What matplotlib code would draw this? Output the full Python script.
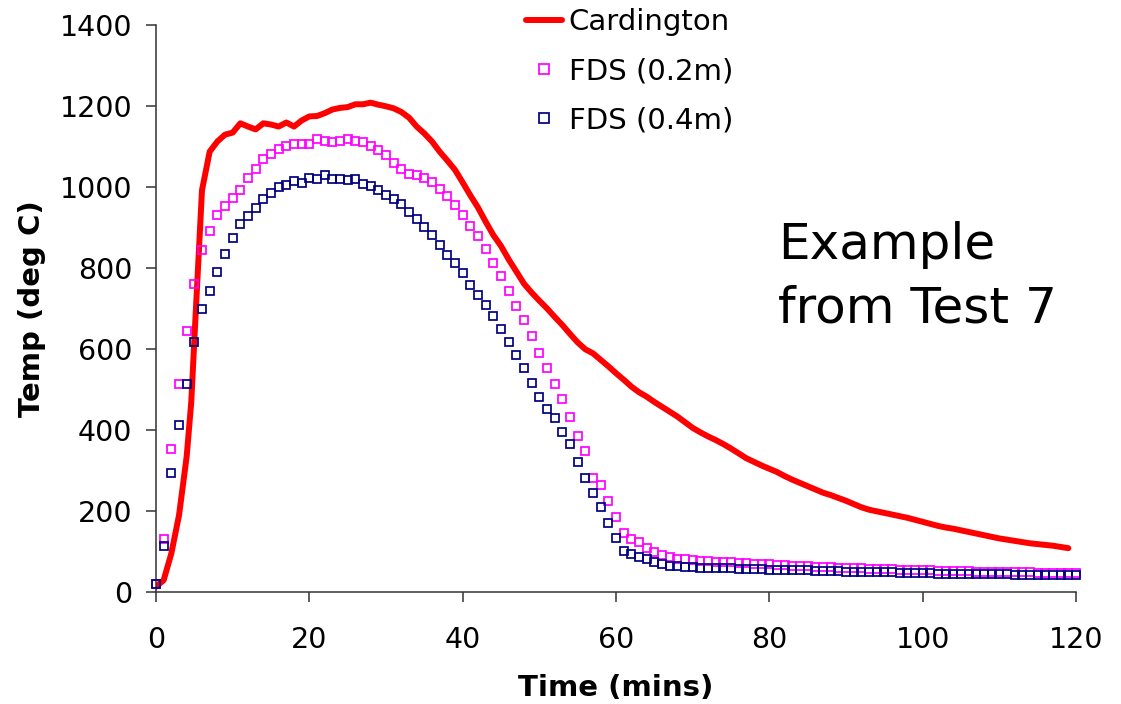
import matplotlib
matplotlib.use("Agg")
import matplotlib.pyplot as plt
import numpy as np

# Cardington measured temperatures
card_time = [0, 1, 2, 3, 4, 4.6, 5.1, 6, 7, 8, 9, 10, 11, 12, 13, 14, 15, 16, 17, 18,
             19, 20, 21, 22, 23, 24, 25, 26, 27, 28, 29, 30, 31, 32, 33, 34, 35, 36,
             37, 38, 39, 40, 41, 42, 43, 44, 45, 46, 47, 48, 49, 50, 51, 52, 53, 54,
             55, 56, 57, 58, 59, 60, 61, 62, 63, 64, 65, 66, 67, 68, 69, 70, 71, 72,
             73, 74, 75, 76, 77, 78, 79, 80, 81, 82, 83, 84, 85, 86, 87, 88, 89, 90,
             91, 92, 93, 94, 95, 96, 97, 98, 99, 100, 101, 102, 103, 104, 105, 106,
             107, 108, 109, 110, 111, 112, 113, 114, 115, 116, 117, 118, 119]
card_temp = [14, 30, 96, 190, 335, 470, 660, 993, 1088, 1113, 1130, 1135, 1158, 1150,
             1143, 1158, 1155, 1150, 1160, 1150, 1165, 1175, 1176, 1183, 1192, 1196,
             1198, 1205, 1205, 1209, 1204, 1200, 1195, 1186, 1172, 1150, 1133, 1113,
             1088, 1066, 1043, 1012, 980, 950, 915, 882, 855, 822, 792, 762, 740, 720,
             701, 680, 660, 638, 617, 600, 590, 574, 558, 541, 525, 508, 494, 483, 470,
             458, 446, 434, 420, 406, 395, 385, 376, 366, 355, 343, 331, 322, 313, 305,
             297, 287, 278, 270, 262, 254, 246, 240, 233, 226, 218, 210, 204, 200, 196,
             192, 188, 184, 179, 174, 169, 164, 160, 157, 153, 149, 145, 141, 137, 133,
             130, 127, 124, 121, 119, 117, 115, 112, 109]

# FDS predictions, one value per minute 0..120
fds_time = list(range(0, 121))
fds_02 = [20, 132, 355, 514, 645, 762, 844, 891, 931, 954, 974, 993, 1022, 1046, 1071,
          1081, 1094, 1102, 1108, 1108, 1108, 1119, 1114, 1112, 1114, 1119, 1114, 1112,
          1102, 1091, 1079, 1061, 1046, 1034, 1030, 1022, 1012, 997, 978, 956, 932, 904,
          879, 847, 812, 781, 744, 707, 672, 633, 592, 555, 514, 478, 434, 387, 348, 283,
          264, 225, 186, 146, 131, 123, 110, 100, 91, 86, 83, 81, 79, 78, 77, 76, 75, 74,
          73, 72, 71, 70, 69, 68, 67, 66, 65, 64, 63, 63, 62, 61, 60, 60, 59, 58, 58, 57,
          57, 56, 55, 55, 54, 54, 53, 53, 52, 52, 52, 51, 51, 50, 50, 50, 49, 49, 49, 48,
          48, 48, 47, 47, 47]
fds_04 = [20, 114, 294, 412, 514, 618, 699, 745, 792, 835, 874, 909, 929, 950, 970,
          985, 1000, 1006, 1016, 1011, 1024, 1020, 1030, 1021, 1020, 1018, 1020, 1007,
          1003, 993, 981, 971, 959, 940, 922, 903, 881, 858, 833, 812, 788, 758, 734,
          709, 681, 650, 619, 586, 555, 518, 483, 452, 430, 397, 365, 322, 281, 244, 210,
          172, 133, 103, 95, 88, 81, 75, 70, 66, 64, 63, 62, 61, 60, 60, 59, 59, 58, 58,
          57, 57, 56, 56, 55, 55, 54, 54, 53, 53, 52, 52, 51, 51, 50, 50, 49, 49, 49, 48,
          48, 48, 47, 47, 46, 46, 46, 45, 45, 45, 44, 44, 44, 44, 43, 43, 43, 43, 42, 42,
          42, 42, 42]

x_ticks = np.arange(0, 121, 20)
y_ticks = np.arange(0, 1401, 200)

fig = plt.figure(figsize=(11.21, 7.04), dpi=100)
ax = fig.add_axes([156 / 1121, 1 - 592.3 / 704, 920 / 1121, 567 / 704])

ax.plot(card_time, card_temp, color="#ff0000", lw=4.3, label="Cardington",
        solid_capstyle="round", zorder=2)
ax.plot(fds_time, fds_02, ls="none", marker="s", ms=5.9, mfc="none", mec="#ff00ff",
        mew=1.25, label="FDS (0.2m)", clip_on=False, zorder=3)
ax.plot(fds_time, fds_04, ls="none", marker="s", ms=5.9, mfc="none", mec="#000080",
        mew=1.25, label="FDS (0.4m)", clip_on=False, zorder=4)

ax.set_xlim(0, 120)
ax.set_ylim(0, 1400)
ax.set_xticks(x_ticks)
ax.set_yticks(y_ticks)
for s in ["top", "right"]:
    ax.spines[s].set_visible(False)
for s in ["left", "bottom"]:
    ax.spines[s].set_linewidth(1.1)
    ax.spines[s].set_color("#333333")
ax.tick_params(axis="both", direction="out", length=7, width=1.1, color="#333333",
               labelsize=20.5)
ax.tick_params(axis="y", pad=10)
ax.tick_params(axis="x", pad=17)

ax.set_xlabel("Time (mins)", fontsize=21, fontweight="bold", labelpad=15)
ax.set_ylabel("Temp (deg C)", fontsize=21, fontweight="bold", labelpad=10)

ax.text(81.1, 822, "Example", fontsize=36, va="baseline", ha="left")
ax.text(81.1, 666, "from Test 7", fontsize=36, va="baseline", ha="left")

fig.legend(loc="upper left", bbox_to_anchor=(526 / 1121, 1 - 8 / 704), frameon=False,
           fontsize=21, borderpad=0, borderaxespad=0, handlelength=1.25,
           handletextpad=0.22, labelspacing=0.73, markerscale=1.25)

fig.savefig("out.png", dpi=100)
